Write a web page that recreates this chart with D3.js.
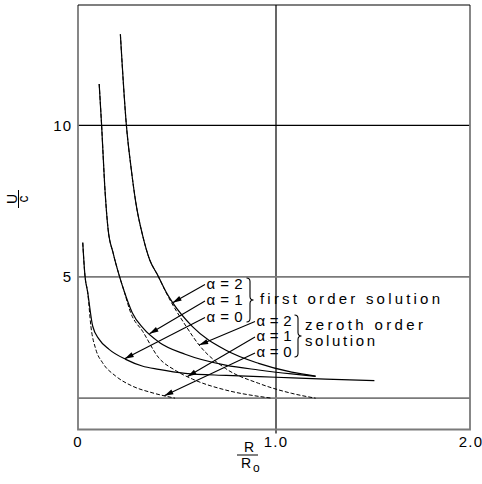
<!DOCTYPE html>
<html>
<head>
<meta charset="utf-8">
<script src="https://cdn.jsdelivr.net/npm/d3@7"></script>
<style>
  html, body { margin: 0; padding: 0; background: #fff; }
  svg text { font-family: "Liberation Sans", "DejaVu Sans", sans-serif; fill: #000; }
</style>
</head>
<body>
<svg id="chart" width="482" height="484"></svg>
<script>
// Dimensionless speed U/c against radius R/R0

// x tick values and their labels
const xTickValues = [0, 1.0, 2.0];
const xTickLabels = ["0", "1.0", "2.0"];
// y tick values and their labels
const yTickValues = [5, 10];
const yTickLabels = ["5", "10"];
// horizontal reference lines
const hLines = [1, 5, 10];
const hLineGray = [true, true, false];

// first order solution (solid)
const firstA0 = [[0.024,6.13],[0.035,5.05],[0.049,4.49],[0.074,3.38],[0.107,2.94],[0.157,2.61],[0.241,2.28],[0.324,2.06],[0.408,1.95],[0.541,1.82],[0.75,1.75],[1.0,1.69],[1.25,1.63],[1.497,1.58]];
const firstA1 = [[0.107,11.36],[0.119,10.03],[0.135,8.0],[0.152,6.57],[0.177,5.8],[0.208,5.05],[0.232,4.55],[0.274,3.82],[0.33,3.3],[0.411,2.84],[0.541,2.45],[0.745,2.09],[0.912,1.93],[1.079,1.80],[1.2,1.72]];
const firstA2 = [[0.214,13.0],[0.244,10.03],[0.269,8.55],[0.292,7.45],[0.327,6.35],[0.361,5.58],[0.403,5.05],[0.445,4.5],[0.478,4.15],[0.578,3.36],[0.745,2.59],[0.912,2.15],[1.079,1.86],[1.2,1.73]];

// zeroth order solution (dashed)
const zerothA0 = [[0.024,6.13],[0.035,5.05],[0.049,4.49],[0.065,3.38],[0.09,2.61],[0.124,2.17],[0.19,1.73],[0.274,1.40],[0.374,1.18],[0.49,1.0]];
const zerothA1 = [[0.107,11.36],[0.119,10.03],[0.135,8.0],[0.152,6.57],[0.177,5.8],[0.208,5.05],[0.232,4.55],[0.266,3.82],[0.327,3.2],[0.408,2.33],[0.491,1.92],[0.578,1.63],[0.745,1.27],[0.912,1.06],[0.98,1.0]];
const zerothA2 = [[0.214,13.0],[0.244,10.03],[0.269,8.55],[0.292,7.45],[0.327,6.35],[0.361,5.58],[0.403,5.05],[0.445,4.48],[0.545,3.38],[0.612,2.75],[0.745,1.98],[0.912,1.49],[1.079,1.16],[1.2,1.0]];

// labels and the x position on each curve that its arrow points to
const alphaLabels = ["\u03B1=2", "\u03B1=1", "\u03B1=0"];
const firstArrowX = [0.478, 0.361, 0.236];
const zerothArrowX = [0.612, 0.553, 0.436];

const svg = d3.select("#chart");

const x = d3.scaleLinear().domain([0, 2]).range([78, 474]);
const y = d3.scaleLinear().domain([0, 14]).range([428.5, 4]);

const frame = { left: 78, right: 470, top: 5, bottom: 429.5 };
const gray = "#7a7a7a";

// reference grid
svg.append("line")
  .attr("x1", x(1)).attr("x2", x(1))
  .attr("y1", frame.top).attr("y2", frame.bottom + 4)
  .attr("stroke", "#000").attr("stroke-width", 1.2);

svg.selectAll("line.h").data(hLines).join("line")
  .attr("class", "h")
  .attr("x1", frame.left).attr("x2", frame.right)
  .attr("y1", d => y(d)).attr("y2", d => y(d))
  .attr("stroke", (d, i) => hLineGray[i] ? gray : "#000")
  .attr("stroke-width", (d, i) => hLineGray[i] ? 1.8 : 1.2);

// frame
svg.append("path")
  .attr("d", `M${frame.left},${frame.top}V${frame.bottom}H${frame.right}V${frame.top}`)
  .attr("fill", "none").attr("stroke", gray).attr("stroke-width", 1.8);
svg.append("line")
  .attr("x1", frame.left).attr("x2", frame.right)
  .attr("y1", frame.top).attr("y2", frame.top)
  .attr("stroke", "#000").attr("stroke-width", 1.2);

// tick labels
svg.selectAll("text.xt").data(xTickValues).join("text")
  .attr("class", "xt")
  .attr("x", d => x(d)).attr("y", 447)
  .attr("dx", (d, i) => i === xTickValues.length - 1 ? -3 : 0)
  .attr("text-anchor", "middle").attr("font-size", 15)
  .attr("letter-spacing", 1.2)
  .text((d, i) => xTickLabels[i]);

svg.selectAll("text.yt").data(yTickValues).join("text")
  .attr("class", "yt")
  .attr("x", 72).attr("y", d => y(d) + 5.5)
  .attr("text-anchor", "end").attr("font-size", 15)
  .attr("letter-spacing", 1)
  .text((d, i) => yTickLabels[i]);

// curves
const line = d3.line().x(d => x(d[0])).y(d => y(d[1])).curve(d3.curveMonotoneX);

const firstSeries = [firstA2, firstA1, firstA0];
const zerothSeries = [zerothA2, zerothA1, zerothA0];

svg.selectAll("path.zeroth").data(zerothSeries).join("path")
  .attr("class", "zeroth")
  .attr("d", line)
  .attr("fill", "none").attr("stroke", "#000").attr("stroke-width", 1)
  .attr("stroke-dasharray", "4,2");

svg.selectAll("path.first").data(firstSeries).join("path")
  .attr("class", "first")
  .attr("d", line)
  .attr("fill", "none").attr("stroke", "#000").attr("stroke-width", 1.2);

// value of a series at a given x, by linear interpolation
function valueAt(series, xv) {
  for (let i = 1; i < series.length; i++) {
    const [x0, y0] = series[i - 1], [x1, y1] = series[i];
    if (xv >= x0 && xv <= x1) return y0 + (y1 - y0) * (xv - x0) / (x1 - x0);
  }
  return series[series.length - 1][1];
}

function arrow(x0, y0, x1, y1) {
  const g = svg.append("g");
  g.append("line")
    .attr("x1", x0).attr("y1", y0).attr("x2", x1).attr("y2", y1)
    .attr("stroke", "#000").attr("stroke-width", 1.1);
  const a = Math.atan2(y1 - y0, x1 - x0);
  const L = 9, W = 2.6;
  const bx = x1 - L * Math.cos(a), by = y1 - L * Math.sin(a);
  const nx = -Math.sin(a) * W, ny = Math.cos(a) * W;
  g.append("path")
    .attr("d", `M${x1},${y1}L${bx + nx},${by + ny}L${bx - nx},${by - ny}Z`)
    .attr("fill", "#000");
}

function brace(x0, y1, y2, w) {
  const ym = (y1 + y2) / 2, h = w / 2;
  return `M${x0},${y1}Q${x0 + h},${y1} ${x0 + h},${y1 + h}L${x0 + h},${ym - h}` +
         `Q${x0 + h},${ym} ${x0 + w},${ym}Q${x0 + h},${ym} ${x0 + h},${ym + h}` +
         `L${x0 + h},${y2 - h}Q${x0 + h},${y2} ${x0},${y2}`;
}

// lettering set to a fixed run length
function runText(xp, yp, len, str) {
  return svg.append("text").attr("x", xp).attr("y", yp)
    .attr("font-size", 15)
    .attr("textLength", len).attr("lengthAdjust", "spacing")
    .text(str);
}

// first order labels
const firstBase = [288.5, 305, 321.5];
alphaLabels.forEach((t, i) => {
  runText(206.5, firstBase[i], 36, t);
  arrow(205, firstBase[i] - 4, x(firstArrowX[i]), y(valueAt(firstSeries[i], firstArrowX[i])));
});
svg.append("path").attr("d", brace(246.5, 278, 322, 7))
  .attr("fill", "none").attr("stroke", "#000").attr("stroke-width", 1.1);
runText(260, 303.5, 180, "first order solution");

// zeroth order labels
const zerothBase = [325.5, 341, 357];
alphaLabels.forEach((t, i) => {
  runText(256.5, zerothBase[i], 35, t);
  arrow(255, zerothBase[i] - 4, x(zerothArrowX[i]), y(valueAt(zerothSeries[i], zerothArrowX[i])));
});
svg.append("path").attr("d", brace(294.5, 315, 357, 7))
  .attr("fill", "none").attr("stroke", "#000").attr("stroke-width", 1.1);
runText(305, 330, 118, "zeroth order");
runText(305, 345.5, 70, "solution");

// x axis title: R / R0
const xt = svg.append("g").attr("transform", "translate(248,455)");
xt.append("text").attr("x", 1).attr("y", -3).attr("text-anchor", "middle").attr("font-size", 14).text("R");
xt.append("line").attr("x1", -11).attr("x2", 10).attr("y1", 0).attr("y2", 0)
  .attr("stroke", "#000").attr("stroke-width", 1);
xt.append("text").attr("x", -2).attr("y", 13).attr("text-anchor", "middle").attr("font-size", 14).text("R");
xt.append("text").attr("x", 5).attr("y", 17).attr("font-size", 12).text("o");

// y axis title: U / c
const yt = svg.append("g").attr("transform", "translate(18.5,199) rotate(-90)");
yt.append("text").attr("x", 0).attr("y", -2).attr("text-anchor", "middle").attr("font-size", 14).text("U");
yt.append("line").attr("x1", -9).attr("x2", 9).attr("y1", 0).attr("y2", 0)
  .attr("stroke", "#000").attr("stroke-width", 1);
yt.append("text").attr("x", 0).attr("y", 9).attr("text-anchor", "middle").attr("font-size", 14).text("c");
</script>
</body>
</html>
